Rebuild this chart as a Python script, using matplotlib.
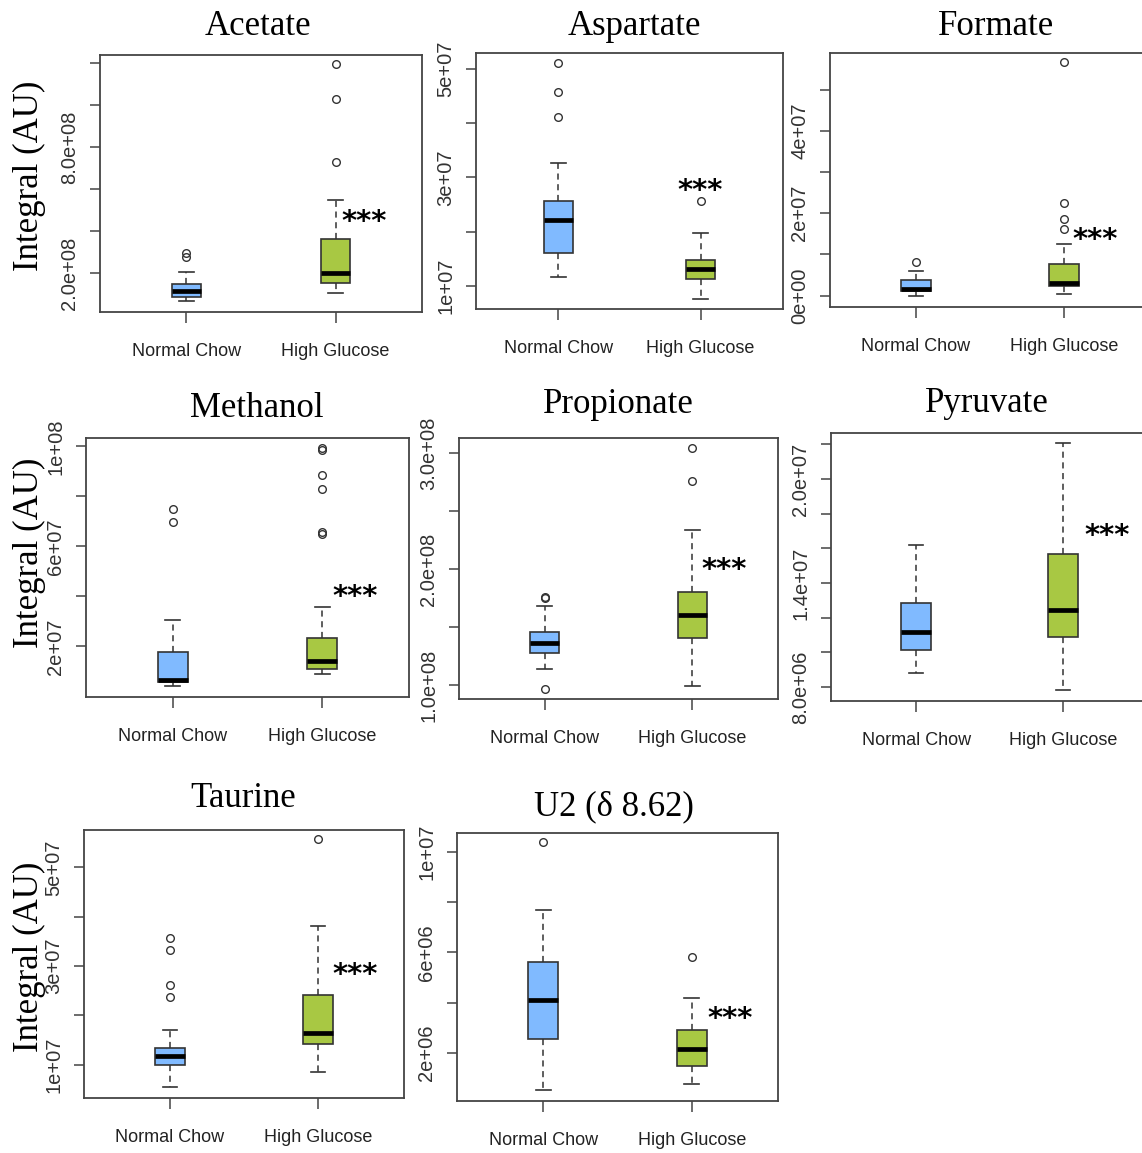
import matplotlib
matplotlib.use("Agg")
import matplotlib.pyplot as plt

W, H = 1142, 1153
fig = plt.figure(figsize=(W / 100, H / 100), dpi=100)

groups = ["Normal Chow", "High Glucose"]
titles = ["Acetate", "Aspartate", "Formate", "Methanol", "Propionate",
          "Pyruvate", "Taurine", "U2 (δ 8.62)"]

# box stats per group: [whisker low, Q1, median, Q3, whisker high]
acetate_box = [[0.65e8, 0.84e8, 1.13e8, 1.49e8, 2.03e8],
               [1.05e8, 1.52e8, 2.00e8, 3.62e8, 5.46e8]]
acetate_out = [[2.76e8, 2.95e8], [7.29e8, 10.3e8, 11.95e8]]

aspartate_box = [[1.17e7, 1.61e7, 2.21e7, 2.56e7, 3.27e7],
                 [0.77e7, 1.13e7, 1.32e7, 1.48e7, 1.98e7]]
aspartate_out = [[4.12e7, 4.58e7, 5.11e7], [2.56e7]]

formate_box = [[0.00e7, 0.12e7, 0.17e7, 0.37e7, 0.60e7],
               [0.05e7, 0.23e7, 0.30e7, 0.78e7, 1.26e7]]
formate_out = [[0.81e7], [1.63e7, 1.87e7, 2.24e7, 5.66e7]]

methanol_box = [[0.43e7, 0.58e7, 0.66e7, 1.79e7, 3.04e7],
                [0.88e7, 1.11e7, 1.43e7, 2.33e7, 3.59e7]]
methanol_out = [[6.98e7, 7.49e7], [6.48e7, 6.58e7, 8.31e7, 8.87e7, 9.84e7, 9.93e7]]

propionate_box = [[1.135e8, 1.273e8, 1.359e8, 1.459e8, 1.68e8],
                  [0.99e8, 1.402e8, 1.60e8, 1.798e8, 2.34e8]]
propionate_out = [[0.97e8, 1.746e8, 1.76e8], [2.76e8, 3.04e8]]

pyruvate_box = [[8.79e6, 10.13e6, 11.19e6, 12.86e6, 16.2e6],
                [7.83e6, 10.86e6, 12.46e6, 15.7e6, 22.1e6]]
pyruvate_out = [[], []]

taurine_box = [[0.55e7, 0.99e7, 1.18e7, 1.345e7, 1.70e7],
               [0.85e7, 1.41e7, 1.64e7, 2.41e7, 3.82e7]]
taurine_out = [[2.37e7, 2.62e7, 3.33e7, 3.57e7], [5.58e7]]

u2_box = [[0.51e6, 2.56e6, 4.09e6, 5.60e6, 7.68e6],
          [0.75e6, 1.47e6, 2.13e6, 2.91e6, 4.20e6]]
u2_out = [[10.4e6], [5.81e6]]

# y ticks and labels
acetate_ticks = [2e8, 4e8, 6e8, 8e8, 10e8, 12e8]
acetate_labels = ["2.0e+08", "", "", "8.0e+08", "", ""]
aspartate_ticks = [1e7, 2e7, 3e7, 4e7, 5e7]
aspartate_labels = ["1e+07", "", "3e+07", "", "5e+07"]
formate_ticks = [0, 1e7, 2e7, 3e7, 4e7, 5e7]
formate_labels = ["0e+00", "", "2e+07", "", "4e+07", ""]
methanol_ticks = [2e7, 4e7, 6e7, 8e7, 1e8]
methanol_labels = ["2e+07", "", "6e+07", "", "1e+08"]
propionate_ticks = [1.0e8, 1.5e8, 2.0e8, 2.5e8, 3.0e8]
propionate_labels = ["1.0e+08", "", "2.0e+08", "", "3.0e+08"]
pyruvate_ticks = [8e6, 10e6, 12e6, 14e6, 16e6, 18e6, 20e6, 22e6]
pyruvate_labels = ["8.0e+06", "", "", "1.4e+07", "", "", "2.0e+07", ""]
taurine_ticks = [1e7, 2e7, 3e7, 4e7, 5e7]
taurine_labels = ["1e+07", "", "3e+07", "", "5e+07"]
u2_ticks = [2e6, 4e6, 6e6, 8e6, 10e6]
u2_labels = ["2e+06", "", "6e+06", "", "1e+07"]

sig_text = "***"
# significance marker anchor (x in group units, y in data units)
star_x = [2.195, 2.0, 2.21, 2.22, 2.216, 2.30, 2.25, 2.26]
star_y = [4.86e8, 2.91e7, 1.55e7, 4.33e7, 2.067e8, 17.2e6, 3.0e7, 3.68e6]

boxes = [acetate_box, aspartate_box, formate_box, methanol_box,
         propionate_box, pyruvate_box, taurine_box, u2_box]
outs = [acetate_out, aspartate_out, formate_out, methanol_out,
        propionate_out, pyruvate_out, taurine_out, u2_out]
ticks = [acetate_ticks, aspartate_ticks, formate_ticks, methanol_ticks,
         propionate_ticks, pyruvate_ticks, taurine_ticks, u2_ticks]
tlabels = [acetate_labels, aspartate_labels, formate_labels, methanol_labels,
           propionate_labels, pyruvate_labels, taurine_labels, u2_labels]

# layout (pixels): left, top, right, bottom of each plot frame
frames = [(100, 55, 422, 312), (476, 53, 783, 309), (830, 53, 1150, 307),
          (86, 438, 409, 697), (459, 438, 778, 699), (831, 433, 1148, 701),
          (84, 830, 404, 1098), (457, 833, 778, 1101)]
ylims = [(0.14e8, 12.4e8), (0.58e7, 5.29e7), (-0.275e7, 5.89e7),
         (-0.02e7, 10.33e7), (0.88e8, 3.129e8), (7.19e6, 22.66e6),
         (0.32e7, 5.76e7), (0.07e6, 10.77e6)]
title_pos = [(258, 35), (634, 35), (996, 35), (257, 417), (618, 413),
             (987, 412), (243, 807), (614, 815)]
ylabel_pos = [(29, 176), (29, 553), (29, 957)]

colors = ["#80BAFF", "#A8C843"]
edge = "#333333"
frame_col = "#444444"

for i in range(8):
    l, t, r, b = frames[i]
    ax = fig.add_axes([l / W, 1 - b / H, (r - l) / W, (b - t) / H])
    stats = []
    for g in range(2):
        wl, q1, med, q3, wh = boxes[i][g]
        stats.append(dict(whislo=wl, q1=q1, med=med, q3=q3, whishi=wh,
                          fliers=outs[i][g], label=groups[g]))
    bp = ax.bxp(stats, positions=[1, 2], widths=0.2, capwidths=0.1,
                patch_artist=True, showfliers=True,
                boxprops=dict(edgecolor=edge, linewidth=1.2),
                whiskerprops=dict(color=edge, linewidth=1.1, linestyle=(0, (4, 3))),
                capprops=dict(color=edge, linewidth=1.2),
                medianprops=dict(color="black", linewidth=3.4, solid_capstyle="butt"),
                flierprops=dict(marker="o", markerfacecolor="none",
                                markeredgecolor=edge, markersize=5.5,
                                markeredgewidth=1.0, linestyle="none"))
    for patch, c in zip(bp["boxes"], colors):
        patch.set_facecolor(c)
    ax.set_xlim(0.42, 2.58)
    ax.set_ylim(*ylims[i])
    ax.set_xticks([1, 2])
    ax.set_xticklabels(groups, family="Liberation Sans",
                       fontsize=13, color="#222222")
    ax.set_yticks(ticks[i])
    ax.set_yticklabels(tlabels[i], rotation=90, va="center",
                       family="Liberation Sans", fontsize=14.5, color="#333333")
    ax.tick_params(axis="x", length=8, width=1.1, color=frame_col, pad=14)
    ax.tick_params(axis="y", length=7, width=1.1, color=frame_col, pad=8)
    for s in ax.spines.values():
        s.set_color(frame_col)
        s.set_linewidth(1.3)
    ax.annotate(sig_text, xy=(star_x[i], star_y[i]), xytext=(0, -12),
                textcoords="offset points", ha="center", va="baseline",
                fontsize=21, fontweight="bold", family="DejaVu Sans",
                color="black", annotation_clip=False)
    tx, ty = title_pos[i]
    fig.text(tx / W, 1 - ty / H, titles[i], ha="center", va="baseline",
             family=["Liberation Serif", "DejaVu Serif"], fontsize=25)

for (x, y) in ylabel_pos:
    fig.text(x / W, 1 - y / H, "Integral (AU)", rotation=90, ha="center",
             va="center", family="Liberation Serif", fontsize=25)

fig.savefig("out.png", dpi=100, facecolor="white")
